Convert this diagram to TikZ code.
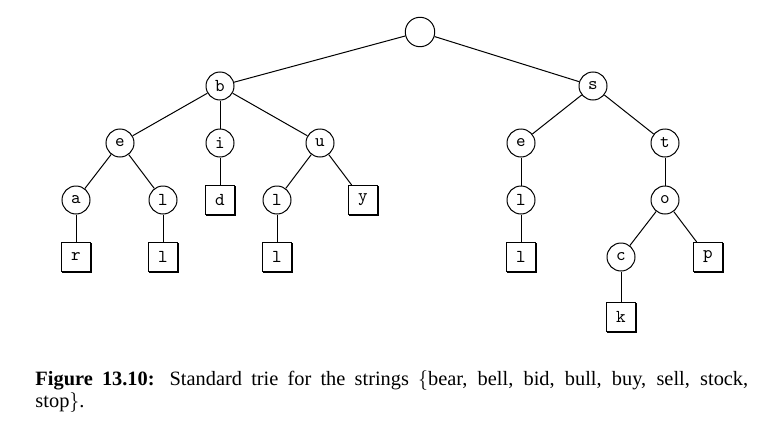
\documentclass[tikz,border=0pt]{standalone}
\usepackage{fontspec}
\setmainfont{Liberation Serif}
\usetikzlibrary{shadows}
\tikzset{
	inner/.style={draw, circle, minimum size=15.4pt, inner sep=0pt, font=\ttfamily},
	leaf/.style={draw, rectangle, fill=white, minimum size=16pt, inner sep=0pt, font=\ttfamily,
		drop shadow={shadow xshift=0.55pt, shadow yshift=-0.55pt, fill=black, opacity=1}},
}
\begin{document}
\begin{tikzpicture}[x=0.55pt, y=-0.55pt, line width=0.55pt]
	\useasboundingbox (0,0) rectangle (779,424);
	\node[inner, minimum size=16.2pt] (root) at (420, 32) {};
	\node[inner] (b) at (220, 86) {b};
	\node[inner] (s) at (593, 86) {s};
	\node[inner] (be) at (120, 143) {e};
	\node[inner] (bi) at (220, 143) {i};
	\node[inner] (bu) at (320, 143) {u};
	\node[inner] (se) at (521, 143) {e};
	\node[inner] (st) at (665, 143) {t};
	\node[inner] (bea) at (76, 200) {a};
	\node[inner] (bel) at (163, 200) {l};
	\node[leaf] (bid) at (220, 200) {d};
	\node[inner] (bul) at (277, 200) {l};
	\node[leaf] (buy) at (363, 200) {y};
	\node[inner] (sel) at (521, 200) {l};
	\node[inner] (sto) at (665, 200) {o};
	\node[leaf] (bear) at (76, 257) {r};
	\node[leaf] (bell) at (163, 257) {l};
	\node[leaf] (bull) at (277, 257) {l};
	\node[leaf] (sell) at (521, 257) {l};
	\node[inner] (stoc) at (621, 257) {c};
	\node[leaf] (stop) at (708, 257) {p};
	\node[leaf] (stock) at (621, 317) {k};
	\draw (root) -- (b);
	\draw (root) -- (s);
	\draw (b) -- (be);
	\draw (b) -- (bi);
	\draw (b) -- (bu);
	\draw (be) -- (bea);
	\draw (be) -- (bel);
	\draw (bi) -- (bid);
	\draw (bu) -- (bul);
	\draw (bu) -- (buy);
	\draw (bea) -- (bear);
	\draw (bel) -- (bell);
	\draw (bul) -- (bull);
	\draw (s) -- (se);
	\draw (s) -- (st);
	\draw (se) -- (sel);
	\draw (sel) -- (sell);
	\draw (st) -- (sto);
	\draw (sto) -- (stoc);
	\draw (sto) -- (stop);
	\draw (stoc) -- (stock);
	\node[anchor=north west, inner sep=0pt, text width=392pt, align=justify, font=\fontsize{11.2}{12.4}\selectfont] (caption) at (35, 370)
		{\textbf{Figure 13.10:} Standard trie for the strings $\{$bear, bell, bid, bull, buy, sell, stock,\linebreak stop$\}$.};
\end{tikzpicture}
\end{document}
